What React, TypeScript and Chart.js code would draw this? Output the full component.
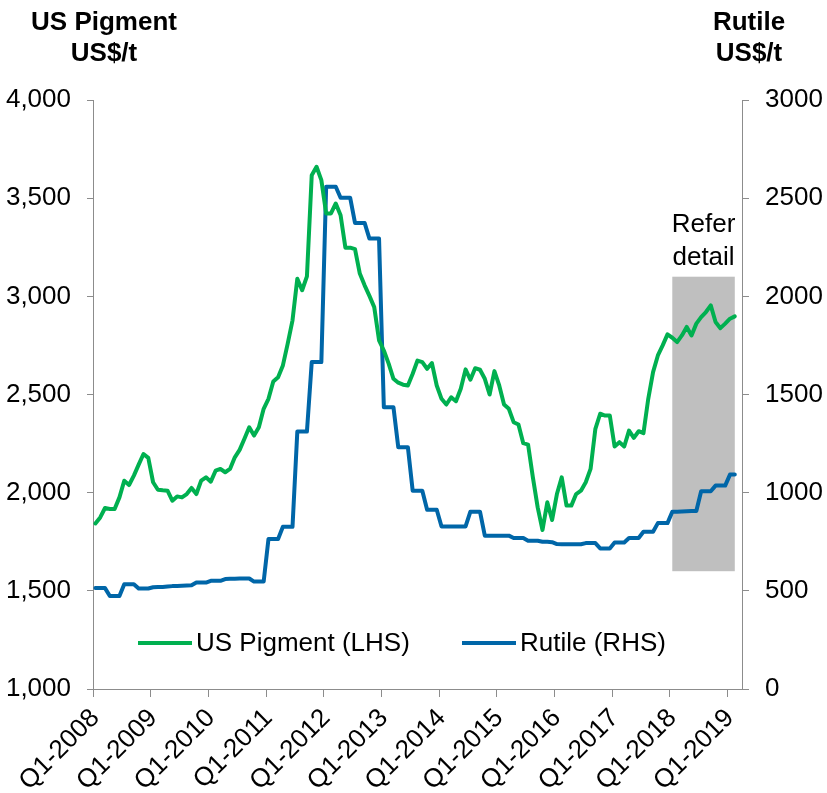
import React, { useEffect, useRef } from 'react';
import { Chart, registerables } from 'chart.js';

Chart.register(...registerables);

// ---- data ----
const xTickLabels = [
  'Q1-2008', 'Q1-2009', 'Q1-2010', 'Q1-2011', 'Q1-2012', 'Q1-2013',
  'Q1-2014', 'Q1-2015', 'Q1-2016', 'Q1-2017', 'Q1-2018', 'Q1-2019',
];
const firstYear = 2008;
const monthSlots = 135; // Jan 2008 .. Mar 2019 on the axis

// US Pigment (LHS), US$/t, monthly from Jan 2008
const usPigment = [
  1843, 1874, 1922, 1917, 1917, 1976, 2061, 2039, 2087, 2143, 2197, 2177,
  2053, 2015, 2012, 2010, 1959, 1981, 1976, 1993, 2024, 1993, 2061, 2078,
  2056, 2112, 2121, 2104, 2121, 2180, 2218, 2275, 2333, 2291, 2333, 2427,
  2478, 2566, 2588, 2648, 2759, 2878, 3090, 3031, 3102, 3617, 3660, 3592,
  3422, 3422, 3473, 3413, 3248, 3248, 3240, 3116, 3056, 3002, 2945, 2776,
  2724, 2657, 2580, 2560, 2550, 2546, 2606, 2673, 2665, 2631, 2660, 2546,
  2478, 2449, 2486, 2466, 2529, 2628, 2575, 2634, 2626, 2580, 2500, 2619,
  2546, 2449, 2427, 2359, 2347, 2252, 2245, 2078, 1925, 1810, 1951, 1861,
  1993, 2078, 1934, 1934, 1993, 2010, 2053, 2121, 2325, 2402, 2393, 2393,
  2235, 2257, 2235, 2316, 2279, 2313, 2303, 2478, 2614, 2699, 2750, 2806,
  2789, 2767, 2801, 2844, 2801, 2861, 2894, 2920, 2954, 2869, 2838, 2861,
  2886, 2898,
];

// Rutile (RHS), US$/t, monthly from Jan 2008
const rutile = [
  514, 514, 514, 474, 474, 474, 534, 534, 534, 512, 512, 512,
  518, 520, 520, 522, 524, 525, 526, 527, 528, 542, 542, 542,
  551, 551, 551, 560, 561, 562, 563, 563, 563, 547, 547, 547,
  764, 764, 764, 826, 826, 826, 1311, 1311, 1311, 1665, 1665, 1665,
  2558, 2558, 2558, 2502, 2502, 2502, 2374, 2374, 2374, 2294, 2294, 2294,
  1435, 1435, 1435, 1231, 1231, 1231, 1010, 1010, 1010, 913, 913, 913,
  828, 828, 828, 828, 828, 828, 903, 903, 903, 781, 781, 781,
  781, 781, 781, 769, 769, 769, 755, 755, 755, 750, 750, 748,
  738, 737, 737, 737, 737, 737, 743, 743, 743, 716, 716, 716,
  746, 746, 746, 769, 769, 769, 801, 801, 801, 845, 845, 845,
  903, 903, 904, 905, 906, 907, 1007, 1007, 1007, 1036, 1036, 1036,
  1092, 1092,
];

const seriesNames = ['US Pigment (LHS)', 'Rutile (RHS)'];
const leftTitle = ['US Pigment', 'US$/t'];
const rightTitle = ['Rutile', 'US$/t'];
const noteLines = ['Refer', 'detail'];
const highlightStartIndex = 120; // Jan 2018
const highlightEndIndex = 133; // Feb 2019
const highlightLow = 1600; // LHS value
const highlightHigh = 3100; // LHS value

// ---- styles ----
const GREEN = '#00B050';
const BLUE = '#0066A8';
const AXIS = '#8C8C8C';
const FONT = '"Liberation Sans", Arial, Helvetica, sans-serif';

const categories = Array.from({ length: monthSlots }, (_, i) => {
  const y = firstYear + Math.floor(i / 12);
  const m = (i % 12) + 1;
  return `${y}-${m < 10 ? '0' + m : m}`;
});

const overlayPlugin = {
  id: 'overlay',
  beforeDatasetsDraw(chart: any) {
    const { ctx, scales } = chart;
    const x = scales.x;
    const y = scales.yL;
    const x0 = x.getPixelForValue(highlightStartIndex);
    const x1 = x.getPixelForValue(highlightEndIndex);
    const yTop = y.getPixelForValue(highlightHigh);
    const yBot = y.getPixelForValue(highlightLow);
    ctx.save();
    ctx.fillStyle = '#BFBFBF';
    ctx.fillRect(x0, yTop, x1 - x0, yBot - yTop);
    ctx.fillStyle = '#000';
    ctx.font = `26px ${FONT}`;
    ctx.textAlign = 'center';
    ctx.textBaseline = 'alphabetic';
    const cx = (x0 + x1) / 2;
    ctx.fillText(noteLines[0], cx, yTop - 45);
    ctx.fillText(noteLines[1], cx, yTop - 12);
    ctx.restore();
  },
  afterDraw(chart: any) {
    const { ctx, chartArea } = chart;
    ctx.save();
    // axis titles
    ctx.fillStyle = '#000';
    ctx.font = `bold 26px ${FONT}`;
    ctx.textAlign = 'center';
    ctx.textBaseline = 'alphabetic';
    ctx.fillText(leftTitle[0], 104, 30);
    ctx.fillText(leftTitle[1], 104, 61);
    ctx.fillText(rightTitle[0], 749, 30);
    ctx.fillText(rightTitle[1], 749, 61);
    // legend
    const ly = chartArea.bottom - 46;
    const items = [
      { x: chartArea.left + 45, ds: chart.data.datasets[0] },
      { x: chartArea.left + 369, ds: chart.data.datasets[1] },
    ];
    ctx.font = `26px ${FONT}`;
    ctx.textAlign = 'left';
    ctx.textBaseline = 'middle';
    for (const it of items) {
      ctx.strokeStyle = it.ds.borderColor;
      ctx.lineWidth = 4;
      ctx.lineCap = 'butt';
      ctx.beginPath();
      ctx.moveTo(it.x, ly);
      ctx.lineTo(it.x + 54, ly);
      ctx.stroke();
      ctx.fillStyle = '#000';
      ctx.fillText(it.ds.label, it.x + 58, ly + 1);
    }
    ctx.restore();
  },
};

export default function App() {
  const ref = useRef<HTMLCanvasElement | null>(null);
  useEffect(() => {
    if (!ref.current) return;
    const chart = new Chart(ref.current, {
      type: 'line',
      data: {
        labels: categories,
        datasets: [
          {
            label: seriesNames[0],
            data: usPigment,
            borderColor: GREEN,
            backgroundColor: GREEN,
            borderWidth: 4,
            pointRadius: 0,
            tension: 0,
            yAxisID: 'yL',
            borderJoinStyle: 'round',
            borderCapStyle: 'round',
          },
          {
            label: seriesNames[1],
            data: rutile,
            borderColor: BLUE,
            backgroundColor: BLUE,
            borderWidth: 4,
            pointRadius: 0,
            tension: 0,
            yAxisID: 'yR',
            borderJoinStyle: 'round',
            borderCapStyle: 'round',
          },
        ],
      },
      options: {
        animation: false,
        responsive: false,
        maintainAspectRatio: false,
        layout: { padding: { top: 100, left: 0, right: 0, bottom: 0 } },
        plugins: {
          legend: { display: false },
          tooltip: { enabled: false },
        },
        scales: {
          x: {
            type: 'category',
            offset: true,
            grid: {
              offset: true,
              drawOnChartArea: false,
              tickLength: 8,
              color: (c: any) => (c.index % 12 === 0 ? AXIS : 'rgba(0,0,0,0)'),
            },
            border: { color: AXIS, width: 1 },
            ticks: {
              autoSkip: false,
              minRotation: 45,
              maxRotation: 45,
              padding: 6,
              color: '#000',
              font: { family: FONT, size: 26 },
              callback: (_v: any, i: number) => (i % 12 === 0 ? xTickLabels[i / 12] : ''),
            },
            afterFit: (s: any) => {
              s.height = 104;
            },
          },
          yL: {
            type: 'linear',
            position: 'left',
            min: 1000,
            max: 4000,
            grid: { drawOnChartArea: false, tickLength: 6, color: AXIS },
            border: { color: AXIS, width: 1 },
            ticks: {
              stepSize: 500,
              padding: 16,
              color: '#000',
              font: { family: FONT, size: 26 },
              callback: (v: any) => Number(v).toLocaleString('en-US'),
            },
            afterFit: (s: any) => {
              s.width = 93;
            },
          },
          yR: {
            type: 'linear',
            position: 'right',
            min: 0,
            max: 3000,
            grid: { drawOnChartArea: false, tickLength: 7, color: AXIS },
            border: { color: AXIS, width: 1 },
            ticks: {
              stepSize: 500,
              padding: 16,
              color: '#000',
              font: { family: FONT, size: 26 },
              callback: (v: any) => String(v),
            },
            afterFit: (s: any) => {
              s.width = 85;
            },
          },
        },
      },
      plugins: [overlayPlugin],
    } as any);
    return () => chart.destroy();
  }, []);
  return (
    <div style={{ position: 'absolute', left: 0, top: 0, width: 827, height: 793, background: '#fff' }}>
      <canvas ref={ref} width={827} height={793} />
    </div>
  );
}
